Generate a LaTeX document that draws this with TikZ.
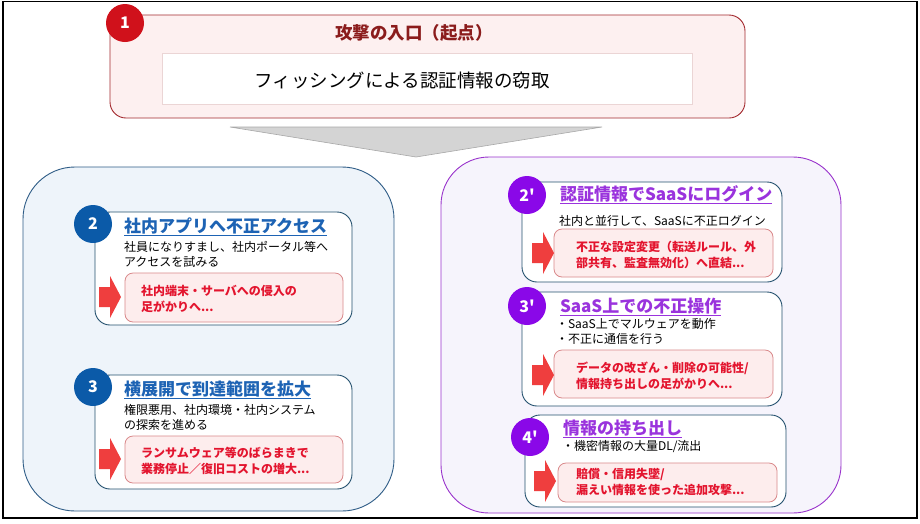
\documentclass[tikz,border=0pt]{standalone}
\usepackage{fontspec}
\setmainfont{Noto Sans CJK JP}
\definecolor{boxonefill}{HTML}{FDF0F0}
\definecolor{boxoneline}{HTML}{A32A2F}
\definecolor{titleonec}{HTML}{8B1C1C}
\definecolor{circred}{HTML}{D0111B}
\definecolor{innerline}{HTML}{EBD5D5}
\definecolor{trifill}{HTML}{D4D4D4}
\definecolor{triline}{HTML}{A8A8A8}
\definecolor{bluefill}{HTML}{EEF4FA}
\definecolor{blueline}{HTML}{2E5C86}
\definecolor{cardline}{HTML}{23506E}
\definecolor{circblue}{HTML}{0B5AA8}
\definecolor{titleblue}{HTML}{1D63B4}
\definecolor{purpfill}{HTML}{F6F4FC}
\definecolor{purpline}{HTML}{9933CC}
\definecolor{circpurp}{HTML}{8A08E8}
\definecolor{titlepurp}{HTML}{9A33DD}
\definecolor{redboxfill}{HTML}{FDEDED}
\definecolor{redboxline}{HTML}{D9888A}
\definecolor{redtextc}{HTML}{E3142E}
\definecolor{arrowc}{HTML}{EF3E3E}
\begin{document}
\begin{tikzpicture}[x=1pt,y=-1pt,
  every node/.style={inner sep=0pt, outer sep=0pt},
  cardbox/.style={draw=cardline, fill=white, rounded corners=15pt, line width=0.9pt},
  redbox/.style={draw=redboxline, fill=redboxfill, rounded corners=8pt, line width=0.8pt},
  numcirc/.style={circle, minimum size=38pt, text=white, font=\bfseries\fontsize{16}{16}\selectfont},
  cardtitle/.style={anchor=west, font=\bfseries\fontsize{17}{20}\selectfont},
  desctext/.style={anchor=west, align=left, font=\fontsize{12}{15}\selectfont},
  redtext/.style={anchor=west, align=left, text=redtextc, font=\bfseries\fontsize{12}{15.5}\selectfont},
  uline/.style={line width=1pt},
  redarr/.pic={\fill[arrowc] (0,-10) -- (11,-10) -- (11,-21) -- (22,0) -- (11,21) -- (11,10) -- (0,10) -- cycle;}
]
\useasboundingbox (0,0) rectangle (920,523);
\fill[white] (0,0) rectangle (920,523);
\draw[black, line width=1.2pt] (3,1.5) rectangle (917,518);

% ---------- box 1
\draw[draw=boxoneline, fill=boxonefill, rounded corners=16pt, line width=0.9pt] (110,15) rectangle (745,118);
\draw[draw=innerline, fill=white, line width=0.8pt] (162,53) rectangle (692,104);
\node[text=titleonec, font=\bfseries\fontsize{17.5}{20}\selectfont] (t1) at (414,33) {攻撃の入口（起点）};
\node[font=\fontsize{18.5}{20}\selectfont] (s1) at (402,80) {フィッシングによる認証情報の窃取};
\node[numcirc, fill=circred] (n1) at (125,23) {1};

% ---------- grey arrow
\draw[fill=trifill, draw=triline, line width=0.6pt] (230,127) -- (602,127) -- (416,157) -- cycle;

% ---------- big containers
\draw[draw=blueline, fill=bluefill, rounded corners=52pt, line width=0.9pt] (23,167) rectangle (394,511);
\draw[draw=purpline, fill=purpfill, rounded corners=48pt, line width=0.9pt] (441,157) rectangle (841,513);

% ---------- card 2
\draw[cardbox] (95,212) rectangle (352,325);
\node[numcirc, fill=circblue] (n2) at (93,224) {2};
\node[cardtitle, text=titleblue] (t2) at (124,226) {社内アプリへ不正アクセス};
\draw[uline, titleblue] ([yshift=-3pt]t2.base west) -- ([yshift=-3pt]t2.base east);
\node[desctext] (d2) at (124,254) {社員になりすまし、社内ポータル等へ\\アクセスを試みる};
\draw[redbox] (125,273) rectangle (343,322);
\node[redtext] (r2) at (141,299) {社内端末・サーバへの侵入の\\足がかりへ...};
\pic at (99,297) {redarr};

% ---------- card 3
\draw[cardbox] (95,375) rectangle (352,489);
\node[numcirc, fill=circblue] (n3) at (93,387) {3};
\node[cardtitle, text=titleblue] (t3) at (124,389) {横展開で到達範囲を拡大};
\draw[uline, titleblue] ([yshift=-3pt]t3.base west) -- ([yshift=-3pt]t3.base east);
\node[desctext] (d3) at (124,417) {権限悪用、社内環境・社内システム\\の探索を進める};
\draw[redbox] (125,436) rectangle (343,483);
\node[redtext] (r3) at (141,461) {ランサムウェア等のばらまきで\\業務停止／復旧コストの増大...};
\pic at (99,459) {redarr};

% ---------- card 2'
\draw[cardbox] (522,182) rectangle (782,282);
\node[numcirc, fill=circpurp] (n2p) at (527,195) {2\textquotesingle};
\node[cardtitle, text=titlepurp] (t2p) at (560,194) {認証情報でSaaSにログイン};
\draw[uline, titlepurp] ([yshift=-3pt]t2p.base west) -- ([yshift=-3pt]t2p.base east);
\node[desctext] (d2p) at (559,221) {社内と並行して、SaaSに不正ログイン};
\draw[redbox] (554,229) rectangle (773,277);
\node[redtext] (r2p) at (576,255) {不正な設定変更（転送ルール、外\\部共有、監査無効化）へ直結...};
\pic at (532,253) {redarr};

% ---------- card 3'
\draw[cardbox] (522,292) rectangle (782,406);
\node[numcirc, fill=circpurp] (n3p) at (527,306) {3\textquotesingle};
\node[cardtitle, text=titlepurp] (t3p) at (560,306) {SaaS上での不正操作};
\draw[uline, titlepurp] ([yshift=-3pt]t3p.base west) -- ([yshift=-3pt]t3p.base east);
\node[desctext] (d3p) at (556,331) {・SaaS上でマルウェアを動作\\・不正に通信を行う};
\draw[redbox] (554,350) rectangle (773,398);
\node[redtext] (r3p) at (576,376) {データの改ざん・削除の可能性/\\情報持ち出しの足がかりへ...};
\pic at (532,375) {redarr};

% ---------- card 4'
\draw[cardbox] (525,415) rectangle (786,507);
\node[numcirc, fill=circpurp] (n4p) at (530,437) {4\textquotesingle};
\node[cardtitle, text=titlepurp] (t4p) at (563,428) {情報の持ち出し};
\draw[uline, titlepurp] ([yshift=-3pt]t4p.base west) -- ([yshift=-3pt]t4p.base east);
\node[desctext] (d4p) at (562,447) {・機密情報の大量DL/流出};
\draw[redbox] (558,463) rectangle (777,502);
\node[redtext] (r4p) at (576,482) {賠償・信用失墜/\\漏えい情報を使った追加攻撃...};
\pic at (534,481) {redarr};
\end{tikzpicture}
\end{document}
